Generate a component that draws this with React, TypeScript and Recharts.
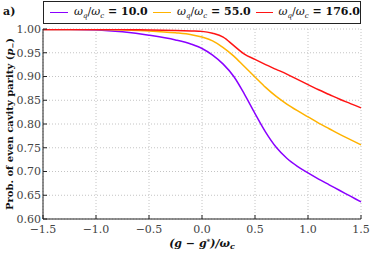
import { LineChart, Line, XAxis, YAxis, CartesianGrid } from "recharts";

const PURPLE = "#8a00ff";
const ORANGE = "#ffb300";
const RED = "#ff1414";
const SERIF = "'DejaVu Serif', serif";

const xValues = [
  -1.5, -1.25, -1.0, -0.75, -0.5, -0.25, -0.1, 0.0, 0.1, 0.2, 0.3, 0.4, 0.5, 0.6, 0.7, 0.8, 0.9, 1.0,
  1.1, 1.2, 1.3, 1.4, 1.5,
];
const ratio10 = [
  0.999, 0.999, 0.998, 0.994, 0.987, 0.977, 0.968, 0.959, 0.945, 0.926, 0.9, 0.863, 0.822, 0.783,
  0.751, 0.728, 0.711, 0.697, 0.684, 0.672, 0.66, 0.648, 0.636,
];
const ratio55 = [
  0.999, 0.999, 0.999, 0.998, 0.996, 0.992, 0.988, 0.983, 0.975, 0.961, 0.943, 0.921, 0.899, 0.877,
  0.858, 0.842, 0.828, 0.815, 0.802, 0.79, 0.778, 0.767, 0.756,
];
const ratio176 = [
  0.999, 0.999, 0.999, 0.999, 0.998, 0.997, 0.996, 0.995, 0.991, 0.983, 0.965, 0.947, 0.936, 0.925,
  0.915, 0.905, 0.894, 0.883, 0.872, 0.862, 0.852, 0.843, 0.834,
];

const xTicks = [-1.5, -1.0, -0.5, 0.0, 0.5, 1.0, 1.5];
const yTicks = [0.6, 0.65, 0.7, 0.75, 0.8, 0.85, 0.9, 0.95, 1.0];

const seriesInfo = [
  { key: "r10", label: "10.0", color: PURPLE },
  { key: "r55", label: "55.0", color: ORANGE },
  { key: "r176", label: "176.0", color: RED },
];

const data = xValues.map((x, i) => ({
  x,
  r10: ratio10[i],
  r55: ratio55[i],
  r176: ratio176[i],
}));

const fmtX = (v: number) => (v < 0 ? `\u2212${Math.abs(v).toFixed(1)}` : v.toFixed(1));

function LegendBox() {
  return (
    <div
      style={{
        position: "absolute",
        left: 43,
        top: 1,
        width: 318,
        height: 23,
        display: "flex",
        alignItems: "center",
        border: "1px solid #222",
        boxSizing: "border-box",
        paddingLeft: 6,
        fontFamily: SERIF,
        fontSize: 11,
        color: "#111",
        background: "white",
      }}
    >
      {seriesInfo.map((s) => (
        <span key={s.key} style={{ display: "flex", alignItems: "center", width: 104 }}>
          <span style={{ width: 18, height: 1.5, background: s.color, marginRight: 6 }} />
          <span style={{ whiteSpace: "nowrap" }}>
            <i>ω</i>
            <sub style={{ fontSize: 7 }}>
              <i>q</i>
            </sub>
            /<i>ω</i>
            <sub style={{ fontSize: 7 }}>
              <i>c</i>
            </sub>
            <b> = {s.label}</b>
          </span>
        </span>
      ))}
    </div>
  );
}

function XLabel({ viewBox }: any) {
  const cx = viewBox.x + viewBox.width / 2;
  return (
    <text x={cx} y={viewBox.y + 28} textAnchor="middle" fontFamily={SERIF} fontSize={11} fontWeight="bold" fill="#111">
      <tspan fontStyle="italic">(g − g</tspan>
      <tspan fontSize={7} dy={-3}>*</tspan>
      <tspan dy={3} fontStyle="italic">)/ω</tspan>
      <tspan fontSize={8} dy={2} fontStyle="italic">c</tspan>
    </text>
  );
}

function YLabel({ viewBox }: any) {
  const cy = viewBox.y + viewBox.height / 2;
  const x = 13;
  return (
    <text
      x={x}
      y={cy}
      transform={`rotate(-90, ${x}, ${cy})`}
      textAnchor="middle"
      fontFamily={SERIF}
      fontSize={10}
      fontWeight="bold"
      fill="#111"
    >
      Prob. of even cavity parity (<tspan fontStyle="italic">p</tspan>
      <tspan fontSize={7} dy={2}>−</tspan>
      <tspan dy={-2}>)</tspan>
    </text>
  );
}

export default function App() {
  return (
    <div style={{ position: "absolute", left: 0, top: 0, width: 374, height: 253, background: "white" }}>
      <LineChart width={374} height={253} data={data} margin={{ top: 29, right: 13, left: 0, bottom: 0 }}>
        <CartesianGrid stroke="#c4c4c4" strokeDasharray="1 2" />
        <XAxis
          dataKey="x"
          type="number"
          domain={[-1.5, 1.5]}
          ticks={xTicks}
          tickFormatter={fmtX}
          height={34}
          tickSize={-4}
          tickMargin={10}
          stroke="#222"
          tick={{ fontFamily: SERIF, fontSize: 11, fill: "#444" }}
          label={<XLabel />}
        />
        <XAxis
          xAxisId="top"
          dataKey="x"
          type="number"
          orientation="top"
          domain={[-1.5, 1.5]}
          ticks={xTicks}
          tickFormatter={() => ""}
          height={0}
          tickSize={-4}
          stroke="#222"
        />
        <YAxis
          type="number"
          domain={[0.6, 1.0]}
          ticks={yTicks}
          tickFormatter={(v: number) => v.toFixed(2)}
          width={43}
          tickSize={-4}
          tickMargin={6}
          stroke="#222"
          allowDataOverflow
          tick={{ fontFamily: SERIF, fontSize: 11, fill: "#444" }}
          label={<YLabel />}
        />
        <YAxis
          yAxisId="right"
          orientation="right"
          type="number"
          domain={[0.6, 1.0]}
          ticks={yTicks}
          tickFormatter={() => ""}
          width={0}
          tickSize={-4}
          stroke="#222"
        />
        {seriesInfo.map((s) => (
          <Line
            key={s.key}
            type="monotone"
            dataKey={s.key}
            stroke={s.color}
            strokeWidth={1.5}
            dot={false}
            isAnimationActive={false}
          />
        ))}
      </LineChart>
      <LegendBox />
      <div
        style={{
          position: "absolute",
          left: 3,
          top: 5,
          fontFamily: SERIF,
          fontWeight: "bold",
          fontSize: 11,
          color: "#111",
        }}
      >
        a)
      </div>
    </div>
  );
}
